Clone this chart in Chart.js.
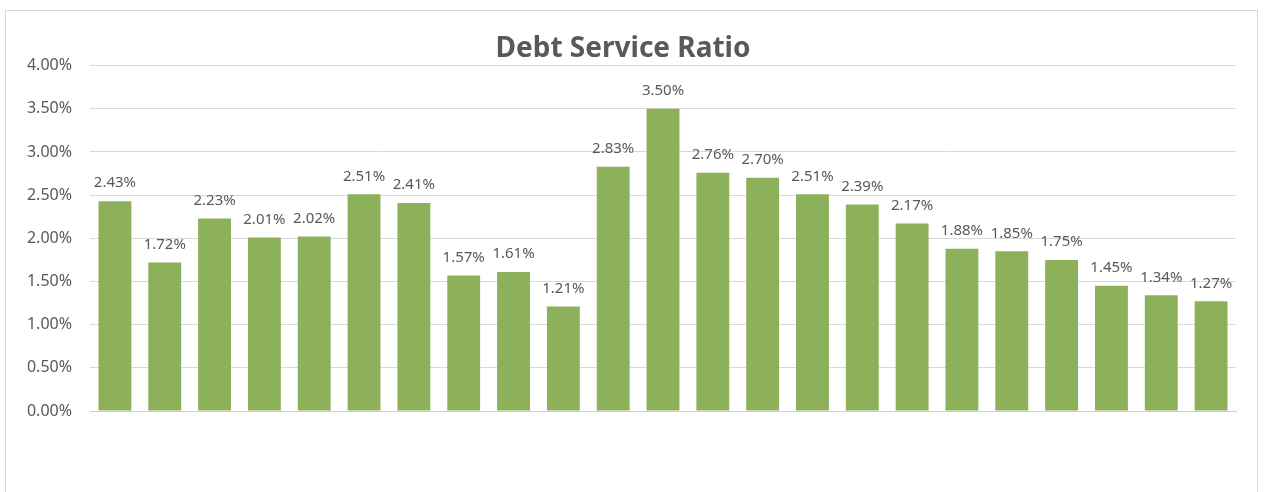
<!DOCTYPE html>
<html>
<head>
<meta charset="utf-8">
<title>Debt Service Ratio</title>
<script src="https://cdn.jsdelivr.net/npm/chart.js@4/dist/chart.umd.min.js"></script>
<style>
  html, body { margin: 0; padding: 0; background: #fff; }
  #wrap { position: relative; width: 1264px; height: 492px; }
</style>
</head>
<body>
<div id="wrap"><canvas id="dsrChart" width="1264" height="492"></canvas></div>
<script>
// one bar per period, values in percent
const periods = ['P1','P2','P3','P4','P5','P6','P7','P8','P9','P10','P11','P12',
                 'P13','P14','P15','P16','P17','P18','P19','P20','P21','P22','P23'];
const ratioValues = [2.43, 1.72, 2.23, 2.01, 2.02, 2.51, 2.41, 1.57, 1.61, 1.21, 2.83, 3.50,
                     2.76, 2.70, 2.51, 2.39, 2.17, 1.88, 1.85, 1.75, 1.45, 1.34, 1.27];
const yTicks = [0, 0.5, 1, 1.5, 2, 2.5, 3, 3.5, 4];

const textGray = '#595959';
const barGreen = '#8db15a';
const fmtPct = v => Number(v).toFixed(2) + '%';

// light frame round the whole chart
const frame = {
  id: 'frame',
  beforeDraw(chart) {
    const ctx = chart.ctx;
    ctx.save();
    ctx.strokeStyle = '#d9d9d9';
    ctx.lineWidth = 1;
    ctx.strokeRect(5.5, 10.5, chart.width - 12, chart.height + 20);
    ctx.restore();
  }
};

// value labels above each bar
const barLabels = {
  id: 'barLabels',
  afterDatasetsDraw(chart) {
    const ctx = chart.ctx;
    const meta = chart.getDatasetMeta(0);
    ctx.save();
    ctx.font = '15px "Noto Sans"';
    ctx.fillStyle = textGray;
    ctx.textAlign = 'center';
    ctx.textBaseline = 'middle';
    meta.data.forEach((bar, i) => {
      ctx.fillText(fmtPct(ratioValues[i]), bar.x, bar.y - 18);
    });
    ctx.restore();
  }
};

new Chart(document.getElementById('dsrChart'), {
  type: 'bar',
  data: {
    labels: periods,
    datasets: [{
      label: 'Debt Service Ratio',
      data: ratioValues,
      backgroundColor: barGreen,
      borderWidth: 0,
      barPercentage: 0.66,
      categoryPercentage: 1
    }]
  },
  options: {
    responsive: false,
    animation: false,
    layout: { padding: { left: 10, right: 28, top: 32, bottom: 73 } },
    plugins: {
      legend: { display: false },
      tooltip: { enabled: false },
      title: {
        display: true,
        text: 'Debt Service Ratio',
        color: textGray,
        font: { family: '"Noto Sans"', size: 28, weight: 'bold' },
        padding: { top: 0, bottom: 0 }
      }
    },
    scales: {
      x: {
        grid: { display: false },
        border: { display: true, color: '#d0d0d0' },
        ticks: { display: false }
      },
      y: {
        min: 0,
        max: 4,
        afterBuildTicks: s => { s.ticks = yTicks.map(v => ({ value: v })); },
        afterFit: s => { s.width = 80; },
        grid: { color: '#d9d9d9', drawTicks: false },
        border: { display: false },
        ticks: {
          padding: 18,
          color: textGray,
          font: { family: '"Noto Sans"', size: 16 },
          callback: v => fmtPct(v)
        }
      }
    }
  },
  plugins: [frame, barLabels]
});
</script>
</body>
</html>
